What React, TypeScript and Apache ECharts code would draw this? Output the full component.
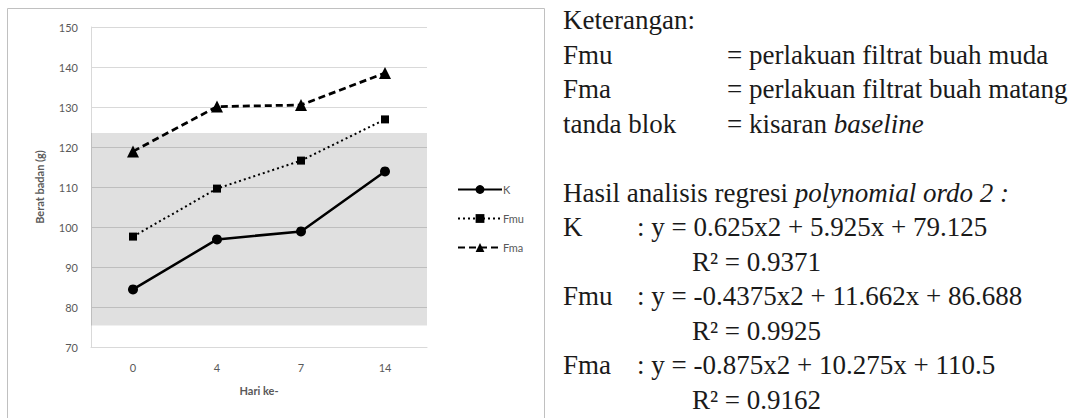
import React, { useEffect, useRef } from "react";
import * as echarts from "echarts";

const categories = ["0", "4", "7", "14"];
const kValues = [84.4, 96.9, 98.9, 113.9];
const fmuValues = [97.6, 109.6, 116.6, 126.9];
const fmaValues = [118.9, 130.1, 130.5, 138.5];
const baselineRange = [75.4, 123.5];
const yMin = 70;
const yMax = 150;
const yStep = 10;
const seriesNames = ["K", "Fmu", "Fma"];

const noteLines = [
  { label: "Keterangan:", value: "" },
  { label: "Fmu", value: "= perlakuan filtrat buah muda" },
  { label: "Fma", value: "= perlakuan filtrat buah matang" },
  { label: "tanda blok", value: "= kisaran {i|baseline}" },
];
const regressionTitle = "Hasil analisis regresi {i|polynomial ordo 2 :}";
const regressionRows = [
  { name: "K", eq: ": y = 0.625x2 + 5.925x + 79.125", r2: "R² = 0.9371" },
  { name: "Fmu", eq: ": y = -0.4375x2 + 11.662x + 86.688", r2: "R² = 0.9925" },
  { name: "Fma", eq: ": y = -0.875x2 + 10.275x + 110.5", r2: "R² = 0.9162" },
];

const SERIF = '"Liberation Serif", "Times New Roman", Times, serif';
const SANS = "Lato";
const FS = 27;

function txt(x: number, y: number, text: string) {
  const hasRich = text.indexOf("{") >= 0;
  const style: any = {
    text,
    font: `${FS}px ${SERIF}`,
    fontSize: FS,
    fontFamily: SERIF,
    fill: "#1a1a1a",
    align: "left",
    verticalAlign: "middle",
  };
  if (hasRich) {
    style.rich = {
      r: { fontSize: FS, fontFamily: SERIF, fill: "#1a1a1a" },
      i: { fontStyle: "italic", fontSize: FS, fontFamily: SERIF, fill: "#1a1a1a" },
    };
    style.text = text.replace(/^([^{]+)/, "{r|$1}");
  }
  return { type: "text", x, y, silent: true, style };
}

export default function App() {
  const ref = useRef<HTMLDivElement>(null);
  useEffect(() => {
    if (!ref.current) return;
    const chart = echarts.init(ref.current, null, { renderer: "svg" });
    const lineH = 34.5;
    const y0 = 20;
    const graphics: any[] = [
      {
        type: "rect",
        silent: true,
        shape: { x: 7.5, y: 8.5, width: 537, height: 420 },
        style: { fill: "none", stroke: "#c0c0c0", lineWidth: 1 },
      },
    ];
    noteLines.forEach((l, i) => {
      graphics.push(txt(563, y0 + i * lineH, l.label));
      if (l.value) graphics.push(txt(727, y0 + i * lineH, l.value));
    });
    graphics.push(txt(563, y0 + 5 * lineH, regressionTitle));
    regressionRows.forEach((r, i) => {
      const y = y0 + (6 + i * 2) * lineH;
      graphics.push(txt(563, y, r.name));
      graphics.push(txt(637, y, r.eq));
      graphics.push(txt(692, y + lineH, r.r2));
    });

    const axisText = { color: "#595959", fontSize: 11, fontFamily: SANS };
    chart.setOption({
      animation: false,
      backgroundColor: "#fff",
      grid: { left: 91, top: 27, width: 336, height: 320 },
      legend: {
        orient: "vertical",
        left: 452,
        top: 179,
        itemWidth: 44,
        itemHeight: 11,
        itemGap: 18,
        data: seriesNames,
        textStyle: { ...axisText, padding: [0, 0, 0, -4] },
      },
      xAxis: {
        type: "category",
        data: categories,
        boundaryGap: true,
        axisLine: { lineStyle: { color: "#d9d9d9" } },
        axisTick: { show: false },
        axisLabel: { ...axisText, margin: 15 },
        name: "Hari ke-",
        nameLocation: "middle",
        nameGap: 38,
        nameTextStyle: { ...axisText, fontWeight: "bold" },
      },
      yAxis: {
        type: "value",
        min: yMin,
        max: yMax,
        interval: yStep,
        axisLine: { show: true, lineStyle: { color: "#d9d9d9" } },
        axisTick: { show: false },
        splitLine: { lineStyle: { color: "#d9d9d9" } },
        axisLabel: { ...axisText, margin: 13 },
        name: "Berat badan (g)",
        nameLocation: "middle",
        nameGap: 46,
        nameTextStyle: { ...axisText, fontWeight: "bold" },
      },
      series: [
        {
          name: seriesNames[0],
          type: "line",
          data: kValues,
          symbol: "circle",
          symbolSize: 10,
          itemStyle: { color: "#000" },
          lineStyle: { color: "#000", width: 2.5 },
          z: 5,
          markArea: {
            silent: true,
            itemStyle: { color: "rgba(0,0,0,0.12)" },
            data: [[{ yAxis: baselineRange[0] }, { yAxis: baselineRange[1] }]],
          },
        },
        {
          name: seriesNames[1],
          type: "line",
          data: fmuValues,
          symbol: "rect",
          symbolSize: 8,
          itemStyle: { color: "#000" },
          lineStyle: { color: "#000", width: 2, type: [2, 3] },
          z: 5,
        },
        {
          name: seriesNames[2],
          type: "line",
          data: fmaValues,
          symbol: "triangle",
          symbolSize: 12,
          itemStyle: { color: "#000" },
          lineStyle: { color: "#000", width: 2.75, type: [7, 4] },
          z: 5,
        },
      ],
      graphic: graphics,
    });
    return () => chart.dispose();
  }, []);
  return (
    <div
      ref={ref}
      style={{ position: "absolute", left: 0, top: 0, width: 1075, height: 418 }}
    />
  );
}
